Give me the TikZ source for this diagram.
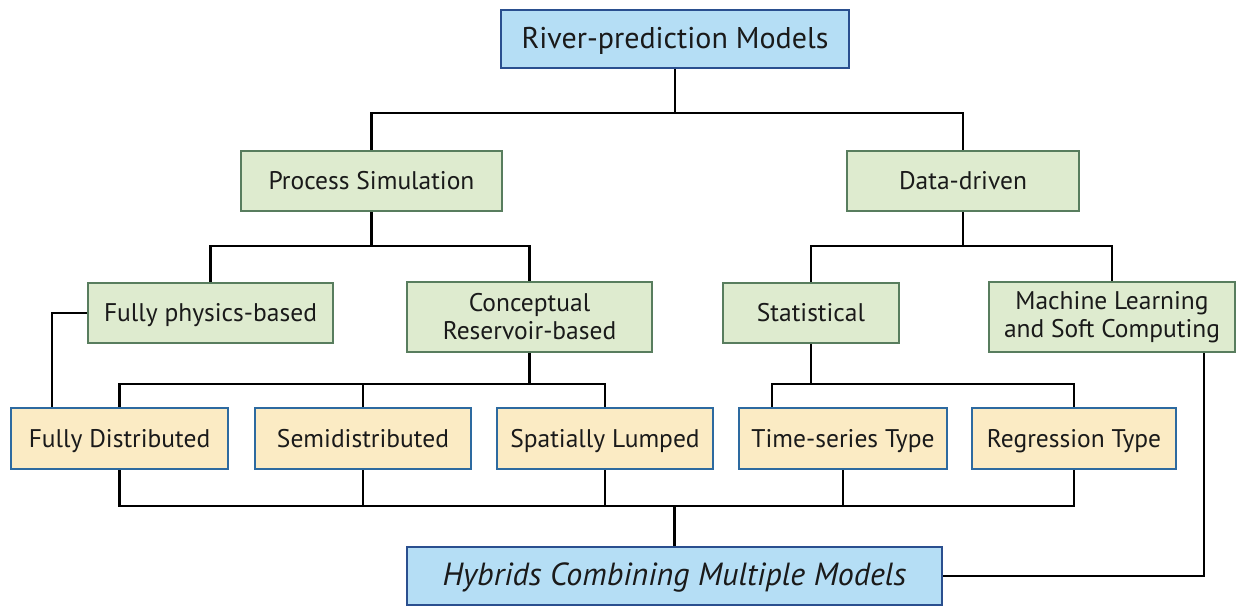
\documentclass[tikz,border=0pt]{standalone}
\usepackage{fontspec}
\setmainfont{PT Sans}
\usetikzlibrary{calc}

\definecolor{topfill}{HTML}{B5DEF5}
\definecolor{topline}{HTML}{2A4F8F}
\definecolor{midfill}{HTML}{DEEBCF}
\definecolor{midline}{HTML}{587D5E}
\definecolor{lowfill}{HTML}{FBEBC4}
\definecolor{lowline}{HTML}{2D6AA0}
\definecolor{ink}{HTML}{1A1A1A}

\begin{document}
\begin{tikzpicture}[x=1pt,y=-1pt,
  box/.style={rectangle, inner sep=0pt, align=center, text=ink, line width=2.4pt,
              font=\fontsize{25.5}{28}\selectfont},
  oneline/.style={text height=18pt, text depth=1pt},
  topbox/.style={box, draw=topline, fill=topfill, minimum height=58pt,
                 font=\fontsize{30}{33}\selectfont, text height=20pt, text depth=1pt},
  midbox/.style={box, draw=midline, fill=midfill},
  lowbox/.style={box, oneline, draw=lowline, fill=lowfill, minimum height=61pt},
  link/.style={draw=black, line width=2.9pt}]

\useasboundingbox (0,0) rectangle (1236,607);

% boxes
\node[topbox, minimum width=348pt] (root) at (675,39) {River-prediction Models};

\node[midbox, oneline, minimum width=261pt, minimum height=60pt] (proc) at (371.5,181) {Process Simulation};
\node[midbox, oneline, minimum width=232pt, minimum height=60pt] (data) at (963,181) {Data-driven};

\node[midbox, oneline, minimum width=245pt, minimum height=60pt] (phys) at (210.5,313) {Fully physics-based};
\node[midbox, minimum width=245pt, minimum height=70pt] (conc) at (529.5,317) {Conceptual\\Reservoir-based};
\node[midbox, oneline, minimum width=176pt, minimum height=60pt] (stat) at (811,313) {Statistical};
\node[midbox, minimum width=246pt, minimum height=70pt] (ml) at (1112,317) {Machine Learning\\and Soft Computing};

\node[lowbox, minimum width=217pt] (fd) at (119.5,438.5) {Fully Distributed};
\node[lowbox, minimum width=216pt] (sd) at (363,438.5) {Semidistributed};
\node[lowbox, minimum width=216pt] (sl) at (605,438.5) {Spatially Lumped};
\node[lowbox, minimum width=208pt] (ts) at (843,438.5) {Time-series Type};
\node[lowbox, minimum width=204pt] (rt) at (1074,438.5) {Regression Type};

\node[topbox, minimum width=535pt, font=\fontsize{32}{35}\selectfont\itshape] (hyb) at (674.5,576) {Hybrids Combining Multiple Models};

% junction points
\coordinate (j1) at (675,113);
\coordinate (j2) at (371.5,246);
\coordinate (j3) at (963,246);
\coordinate (j4) at (529.5,384);
\coordinate (j5) at (811,384);
\coordinate (j6) at (674.5,506);
\coordinate (xphys) at (52,0);
\coordinate (xts) at (772,0);
\coordinate (xml) at (1204,0);

% connectors
\path[link] (root.south) -- (j1);
\path[link] (proc.north) |- (j1) -| (data.north);

\path[link] (proc.south) -- (j2);
\path[link] (phys.north) |- (j2) -| (conc.north);
\path[link] (data.south) -- (j3);
\path[link] (stat.north) |- (j3) -| (ml.north);

\path[link] (phys.west) -| (fd.north -| xphys);

\path[link] (conc.south) -- (j4);
\path[link] (fd.north) |- (j4) -| (sl.north);
\path[link] (sd.north) -- (sd.north |- j4);

\path[link] (stat.south) -- (j5);
\path[link] (ts.north -| xts) |- (j5) -| (rt.north);

\path[link] (fd.south) |- (j6) -| (rt.south);
\path[link] (sd.south) -- (sd.south |- j6);
\path[link] (sl.south) -- (sl.south |- j6);
\path[link] (ts.south) -- (ts.south |- j6);
\path[link] (j6) -- (hyb.north);

\path[link] (ml.south -| xml) |- (hyb.east);
\end{tikzpicture}
\end{document}
